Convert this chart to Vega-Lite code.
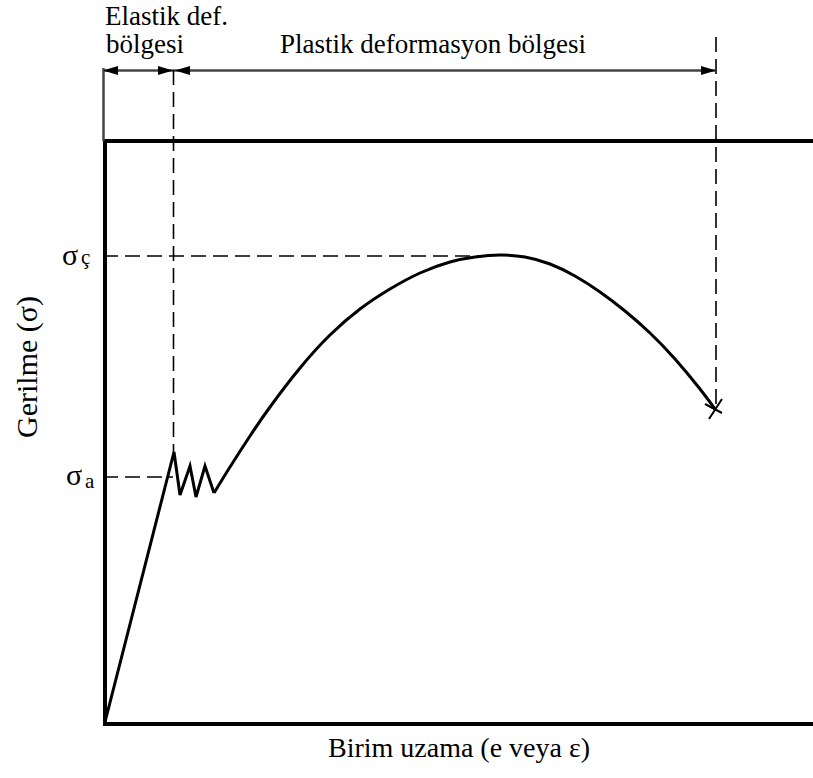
{
  "$schema": "https://vega.github.io/schema/vega-lite/v6.json",
  "width": 710,
  "height": 722,
  "autosize": {"type": "none"},
  "padding": {"left": 103, "top": 0, "right": 0, "bottom": 56},
  "background": "white",
  "config": {"view": {"stroke": null}},
  "datasets": {
    "frame": [
      {"x1": 0, "y1": 581, "x2": 710, "y2": 581},
      {"x1": 0, "y1": -2, "x2": 710, "y2": -2},
      {"x1": 2, "y1": -2, "x2": 2, "y2": 581}
    ],
    "thin": [
      {"x1": 0, "y1": 651.5, "x2": 612, "y2": 651.5},
      {"x1": 0.5, "y1": 654, "x2": 0.5, "y2": 581}
    ],
    "dashed": [
      {"x1": 70.5, "y1": 652, "x2": 70.5, "y2": 270},
      {"x1": 613, "y1": 685, "x2": 613, "y2": 312},
      {"x1": 0, "y1": 466, "x2": 390, "y2": 466},
      {"x1": 0, "y1": 245, "x2": 70, "y2": 245}
    ],
    "elastic": [
      {"i": 0, "x": 2, "y": 0},
      {"i": 1, "x": 71, "y": 270},
      {"i": 2, "x": 77, "y": 227},
      {"i": 3, "x": 87, "y": 256},
      {"i": 4, "x": 93, "y": 225},
      {"i": 5, "x": 102, "y": 256},
      {"i": 6, "x": 111, "y": 229}
    ],
    "plastic": [
      {"x": 111, "y": 229},
      {"x": 127, "y": 255},
      {"x": 147, "y": 286},
      {"x": 167, "y": 315},
      {"x": 197, "y": 354},
      {"x": 227, "y": 387},
      {"x": 257, "y": 413},
      {"x": 287, "y": 433},
      {"x": 317, "y": 449},
      {"x": 347, "y": 460},
      {"x": 372, "y": 465},
      {"x": 397, "y": 467},
      {"x": 422, "y": 465},
      {"x": 447, "y": 458},
      {"x": 472, "y": 446},
      {"x": 497, "y": 430},
      {"x": 522, "y": 411},
      {"x": 547, "y": 389},
      {"x": 572, "y": 363},
      {"x": 597, "y": 333},
      {"x": 612, "y": 313}
    ],
    "fracture": [
      {"x1": 602, "y1": 318, "x2": 619, "y2": 309},
      {"x1": 606, "y1": 303, "x2": 619, "y2": 323}
    ],
    "arrows": [
      {"dir": "left", "x": 0, "y": 651.5},
      {"dir": "right", "x": 70, "y": 651.5},
      {"dir": "left", "x": 72, "y": 651.5},
      {"dir": "right", "x": 613, "y": 651.5}
    ],
    "texts": [
      {"role": "top", "label": "Elastik def.", "x": 2, "y": 697},
      {"role": "top", "label": "bölgesi", "x": 3, "y": 669},
      {"role": "top", "label": "Plastik deformasyon bölgesi", "x": 177, "y": 669},
      {"role": "sig", "label": "σ", "x": -41, "y": 457},
      {"role": "sig", "label": "σ", "x": -37, "y": 237},
      {"role": "sub", "label": "ç", "x": -22, "y": 458},
      {"role": "sub", "label": "a", "x": -18, "y": 234},
      {"role": "ytitle", "label": "Gerilme (σ)", "x": -75.5, "y": 355},
      {"role": "xtitle", "label": "Birim uzama (e veya ε)", "x": 356, "y": -35}
    ]
  },
  "layer": [
    {
      "data": {"name": "frame"},
      "mark": {"type": "rule", "color": "black", "strokeWidth": 4},
      "encoding": {
        "x": {"field": "x1", "type": "quantitative", "scale": {"domain": [0, 710], "nice": false, "zero": false}, "axis": null},
        "y": {"field": "y1", "type": "quantitative", "scale": {"domain": [0, 722], "nice": false, "zero": false}, "axis": null},
        "x2": {"field": "x2"},
        "y2": {"field": "y2"}
      }
    },
    {
      "data": {"name": "thin"},
      "mark": {"type": "rule", "color": "#444444", "strokeWidth": 2.5},
      "encoding": {
        "x": {"field": "x1", "type": "quantitative"},
        "y": {"field": "y1", "type": "quantitative"},
        "x2": {"field": "x2"},
        "y2": {"field": "y2"}
      }
    },
    {
      "data": {"name": "dashed"},
      "mark": {"type": "rule", "color": "black", "strokeWidth": 1.6, "strokeDash": [15, 7]},
      "encoding": {
        "x": {"field": "x1", "type": "quantitative"},
        "y": {"field": "y1", "type": "quantitative"},
        "x2": {"field": "x2"},
        "y2": {"field": "y2"}
      }
    },
    {
      "data": {"name": "elastic"},
      "mark": {"type": "line", "color": "black", "strokeWidth": 3, "strokeJoin": "miter"},
      "encoding": {
        "x": {"field": "x", "type": "quantitative"},
        "y": {"field": "y", "type": "quantitative"},
        "order": {"field": "i"}
      }
    },
    {
      "data": {"name": "plastic"},
      "mark": {"type": "line", "color": "black", "strokeWidth": 3, "interpolate": "natural"},
      "encoding": {
        "x": {"field": "x", "type": "quantitative"},
        "y": {"field": "y", "type": "quantitative"}
      }
    },
    {
      "data": {"name": "fracture"},
      "mark": {"type": "rule", "color": "black", "strokeWidth": 2},
      "encoding": {
        "x": {"field": "x1", "type": "quantitative"},
        "y": {"field": "y1", "type": "quantitative"},
        "x2": {"field": "x2"},
        "y2": {"field": "y2"}
      }
    },
    {
      "data": {"name": "arrows"},
      "transform": [{"filter": "datum.dir === 'right'"}],
      "mark": {"type": "point", "filled": true, "color": "black", "opacity": 1, "size": 900, "shape": "M0,0L-1,-0.3L-1,0.3Z"},
      "encoding": {
        "x": {"field": "x", "type": "quantitative"},
        "y": {"field": "y", "type": "quantitative"}
      }
    },
    {
      "data": {"name": "arrows"},
      "transform": [{"filter": "datum.dir === 'left'"}],
      "mark": {"type": "point", "filled": true, "color": "black", "opacity": 1, "size": 900, "shape": "M0,0L1,-0.3L1,0.3Z"},
      "encoding": {
        "x": {"field": "x", "type": "quantitative"},
        "y": {"field": "y", "type": "quantitative"}
      }
    },
    {
      "data": {"name": "texts"},
      "transform": [{"filter": "datum.role === 'top'"}],
      "mark": {"type": "text", "font": "Liberation Serif", "fontSize": 27, "color": "black", "align": "left", "baseline": "alphabetic"},
      "encoding": {
        "x": {"field": "x", "type": "quantitative"},
        "y": {"field": "y", "type": "quantitative"},
        "text": {"field": "label"}
      }
    },
    {
      "data": {"name": "texts"},
      "transform": [{"filter": "datum.role === 'sig'"}],
      "mark": {"type": "text", "font": "Liberation Serif", "fontSize": 30, "color": "black", "align": "left", "baseline": "alphabetic"},
      "encoding": {
        "x": {"field": "x", "type": "quantitative"},
        "y": {"field": "y", "type": "quantitative"},
        "text": {"field": "label"}
      }
    },
    {
      "data": {"name": "texts"},
      "transform": [{"filter": "datum.role === 'sub'"}],
      "mark": {"type": "text", "font": "Liberation Serif", "fontSize": 21, "color": "black", "align": "left", "baseline": "alphabetic"},
      "encoding": {
        "x": {"field": "x", "type": "quantitative"},
        "y": {"field": "y", "type": "quantitative"},
        "text": {"field": "label"}
      }
    },
    {
      "data": {"name": "texts"},
      "transform": [{"filter": "datum.role === 'ytitle'"}],
      "mark": {"type": "text", "font": "Liberation Serif", "fontSize": 30, "color": "black", "align": "center", "baseline": "middle", "angle": 270},
      "encoding": {
        "x": {"field": "x", "type": "quantitative"},
        "y": {"field": "y", "type": "quantitative"},
        "text": {"field": "label"}
      }
    },
    {
      "data": {"name": "texts"},
      "transform": [{"filter": "datum.role === 'xtitle'"}],
      "mark": {"type": "text", "font": "Liberation Serif", "fontSize": 28, "color": "black", "align": "center", "baseline": "alphabetic"},
      "encoding": {
        "x": {"field": "x", "type": "quantitative"},
        "y": {"field": "y", "type": "quantitative"},
        "text": {"field": "label"}
      }
    }
  ]
}
